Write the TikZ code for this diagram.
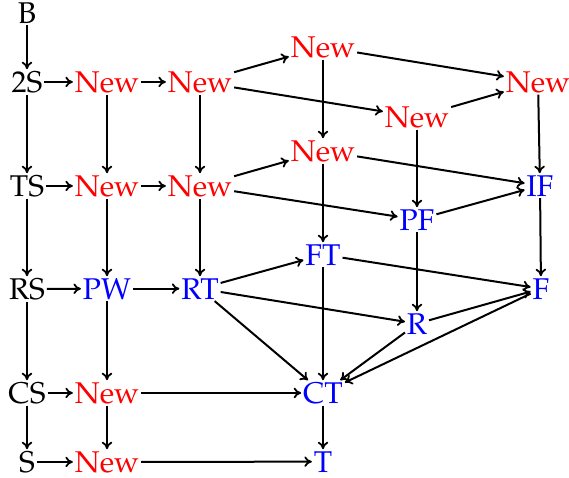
\documentclass[tikz,border=0pt]{standalone}
\usepackage[T1]{fontenc}
\usepackage{mathpazo}
\usetikzlibrary{arrows.meta}
\definecolor{nred}{RGB}{255,0,0}
\definecolor{nblue}{RGB}{0,0,255}
\begin{document}
\begin{tikzpicture}[x=1pt,y=-1pt,
  lbl/.style={font=\fontsize{30}{36}\selectfont, inner sep=2pt, outer sep=0pt, anchor=base},
  blk/.style={lbl, text=black},
  nw/.style={lbl, text=nred},
  bl/.style={lbl, text=nblue},
  e/.style={-{Computer Modern Rightarrow[length=7.5pt,width=10.5pt,line width=1.8pt]}, line width=2pt}]
\useasboundingbox (0,0) rectangle (569,477);
% column x: 27, 107, 200, 323, 417, 540
\node[blk] (B) at (27,23) {B};
\node[blk] (S2) at (27,92) {2S};
\node[nw] (n12) at (107,92) {New};
\node[nw] (n13) at (200,92) {New};
\node[nw] (ntop) at (323,57) {New};
\node[nw] (nright) at (538,92) {New};
\node[nw] (nmid) at (417,127) {New};
\node[blk] (TS) at (27,196) {TS};
\node[nw] (n22) at (107,196) {New};
\node[nw] (n23) at (200,196) {New};
\node[nw] (n2mid) at (323,161) {New};
\node[bl] (IF) at (540,196) {IF};
\node[bl] (PF) at (417,230) {PF};
\node[blk] (RS) at (27,299) {RS};
\node[bl] (PW) at (107,299) {PW};
\node[bl] (RT) at (200,299) {RT};
\node[bl] (FT) at (323,265) {FT};
\node[bl] (F) at (541,299) {F};
\node[bl] (R) at (417,334) {R};
\node[blk] (CS) at (27,403) {CS};
\node[nw] (n42) at (107,403) {New};
\node[bl] (CT) at (323,403) {CT};
\node[blk] (S) at (27,472) {S};
\node[nw] (n52) at (107,472) {New};
\node[bl] (T) at (323,472) {T};
\draw[e] (B) -- (S2);
\draw[e] (S2) -- (n12);
\draw[e] (n12) -- (n13);
\draw[e] (S2) -- (TS);
\draw[e] (n12) -- (n22);
\draw[e] (n13) -- (n23);
\draw[e] (n13) -- (ntop);
\draw[e] (n13) -- (nmid);
\draw[e] (ntop) -- (nright);
\draw[e] (ntop) -- (n2mid);
\draw[e] (nmid) -- (nright);
\draw[e] (nmid) -- (PF);
\draw[e] (nright) -- (IF);
\draw[e] (TS) -- (n22);
\draw[e] (n22) -- (n23);
\draw[e] (TS) -- (RS);
\draw[e] (n22) -- (PW);
\draw[e] (n23) -- (RT);
\draw[e] (n23) -- (n2mid);
\draw[e] (n23) -- (PF);
\draw[e] (n2mid) -- (IF);
\draw[e] (n2mid) -- (FT);
\draw[e] (PF) -- (IF);
\draw[e] (PF) -- (R);
\draw[e] (IF) -- (F);
\draw[e] (RS) -- (PW);
\draw[e] (PW) -- (RT);
\draw[e] (RS) -- (CS);
\draw[e] (PW) -- (n42);
\draw[e] (RT) -- (FT);
\draw[e] (RT) -- (R);
\draw[e] (RT) -- (CT);
\draw[e] (FT) -- (F);
\draw[e] (FT) -- (CT);
\draw[e] (R) -- (F);
\draw[e] (R) -- (CT);
\draw[e] (F) -- (CT);
\draw[e] (CS) -- (n42);
\draw[e] (n42) -- (CT);
\draw[e] (CS) -- (S);
\draw[e] (n42) -- (n52);
\draw[e] (CT) -- (T);
\draw[e] (S) -- (n52);
\draw[e] (n52) -- (T);
\end{tikzpicture}
\end{document}
